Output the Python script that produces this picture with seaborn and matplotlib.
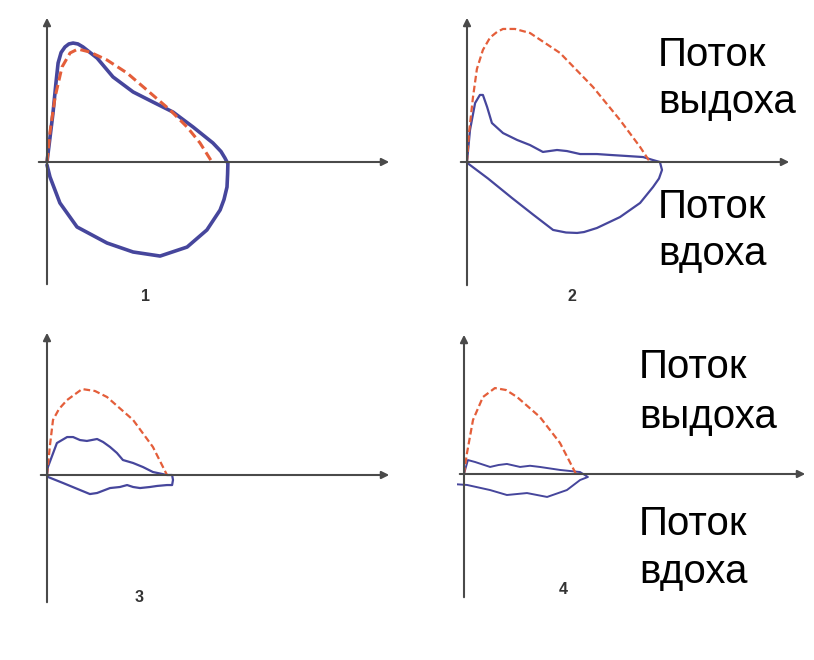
import numpy as np
import matplotlib
matplotlib.use("Agg")
import matplotlib.pyplot as plt
import seaborn as sns

# flow-volume loops: volume (L) vs flow (L/s)
# panel 1
p1_norm_vol = [0, 0.1, 0.27, 0.5, 0.77, 1.03, 1.43, 2.0, 2.67, 3.33, 4.1, 4.67, 5.1, 5.5]
p1_norm_flow = [0, 2.0, 4.33, 6.33, 7.27, 7.53, 7.33, 6.8, 5.93, 4.8, 3.47, 2.33, 1.27, 0]
p1_vol = [0, 0.2, 0.3, 0.37, 0.47, 0.6, 0.73, 0.87, 1.03, 1.2, 1.67, 2.2, 2.87, 3.53, 4.2,
          4.87, 5.53, 5.8, 5.93, 6.0,
          6.03, 6.02, 6.0, 5.9, 5.77, 5.33, 4.67, 3.77, 2.87, 2.0, 1.0, 0.43, 0.1, 0]
p1_flow = [0, 3.27, 5.3, 6.6, 7.3, 7.67, 7.87, 7.93, 7.87, 7.67, 6.93, 5.67, 4.67, 4.0, 3.33,
           2.33, 1.27, 0.7, 0.27, 0,
           -0.07, -0.8, -1.67, -2.5, -3.2, -4.53, -5.67, -6.27, -6.0, -5.4, -4.33, -2.73,
           -1.0, -0.2]

# panel 2
p2_norm_vol = [0, 0.07, 0.2, 0.33, 0.53, 0.77, 1.0, 1.2, 1.6, 2.1, 3.1, 4.2, 5.1, 5.77, 6.1]
p2_norm_flow = [0, 2.0, 4.33, 6.2, 7.47, 8.3, 8.67, 8.87, 8.87, 8.6, 7.27, 5.0, 2.8, 1.0, 0]
p2_vol = [0, 0.1, 0.27, 0.43, 0.53, 0.67, 0.83, 1.2, 1.67, 2.1, 2.53, 3.0, 3.33, 3.77,
          4.33, 4.77, 5.33, 5.87, 6.2, 6.43,
          6.5, 6.4, 6.2, 5.77, 5.1, 4.33, 3.9, 3.67, 3.3, 2.87, 2.2, 1.5, 0.7, 0]
p2_flow = [0, 2.13, 3.93, 4.47, 4.47, 3.67, 2.6, 1.93, 1.47, 1.13, 0.67, 0.8, 0.73, 0.53,
           0.53, 0.47, 0.4, 0.33, 0.13, 0,
           -0.53, -1.1, -1.67, -2.73, -3.67, -4.4, -4.67, -4.73, -4.7, -4.53, -3.5, -2.4,
           -1.1, -0.05]

# panel 3
p3_norm_vol = [0, 0.1, 0.2, 0.4, 0.67, 1.17, 1.6, 2.0, 2.87, 3.53, 4.0]
p3_norm_flow = [0, 2.0, 3.67, 4.4, 5.0, 5.73, 5.6, 5.2, 3.67, 1.87, 0]
p3_vol = [0, 0.03, 0.33, 0.67, 0.87, 1.1, 1.33, 1.67, 1.87, 2.1, 2.33, 2.53, 2.87, 3.2,
          3.53, 4.0, 4.17, 4.2, 4.17, 4.0, 3.67, 3.43, 3.1, 2.87, 2.67, 2.43, 2.1, 1.67,
          1.43, 1.1, 0.53, 0.03]
p3_flow = [0, 0.53, 2.13, 2.53, 2.53, 2.33, 2.27, 2.4, 2.2, 1.87, 1.47, 1.0, 0.8, 0.53,
           0.2, 0, 0, -0.33, -0.67, -0.67, -0.73, -0.8, -0.87, -0.8, -0.67, -0.8, -0.87,
           -1.2, -1.27, -1.0, -0.53, -0.13]

# panel 4
p4_norm_vol = [0, 0.1, 0.3, 0.63, 1.03, 1.4, 1.77, 2.53, 3.2, 3.7, 3.73]
p4_norm_flow = [0, 1.4, 3.6, 5.13, 5.73, 5.6, 5.13, 3.8, 2.07, 0.13, 0]
p4_vol = [0, 0.13, 0.37, 0.87, 1.15, 1.43, 1.87, 2.2, 2.53, 3.2, 3.87, 4.13,
          3.87, 3.43, 2.77, 2.1, 1.43, 0.87, 0.1, -0.37]
p4_flow = [0, 0.93, 0.8, 0.47, 0.6, 0.67, 0.47, 0.55, 0.47, 0.27, 0.13, -0.2,
           -0.4, -1.07, -1.53, -1.27, -1.4, -1.07, -0.73, -0.67]

panel_labels = ["1", "2", "3", "4"]
exp_text = ["Поток", "выдоха"]
insp_text = ["Поток", "вдоха"]

BLUE = "#46469c"
RED = "#e45e3a"
AXC = "#4a4a4a"
W, H = 814, 660
SX, SY = 30.0, 15.0  # pixels per litre, pixels per L/s

sns.set_theme(style="white")
plt.rcParams["font.family"] = ["Liberation Sans", "DejaVu Sans"]

fig = plt.figure(figsize=(W / 100, H / 100), dpi=100)
fig.patch.set_facecolor("white")

# (left, right, top, bottom, origin x, origin y) in pixels
layout = [
    (36, 392, 15, 287, 47, 162),
    (458, 792, 15, 288, 467, 162),
    (38, 392, 330, 605, 47, 475),
    (457, 808, 332, 600, 464, 474),
]
curves = [
    (p1_norm_vol, p1_norm_flow, p1_vol, p1_flow, 2.6),
    (p2_norm_vol, p2_norm_flow, p2_vol, p2_flow, 1.6),
    (p3_norm_vol, p3_norm_flow, p3_vol, p3_flow, 1.6),
    (p4_norm_vol, p4_norm_flow, p4_vol, p4_flow, 1.4),
]
label_pos = [(146, 297), (572, 297), (139, 597), (563, 589)]

for i, ((x0, x1, y0, y1, ox, oy), (nv, nf, v, f, lw)) in enumerate(zip(layout, curves)):
    ax = fig.add_axes([x0 / W, 1 - y1 / H, (x1 - x0) / W, (y1 - y0) / H])
    ax.set_xlim((x0 - ox) / SX, (x1 - ox) / SX)
    ax.set_ylim((oy - y1) / SY, (oy - y0) / SY)
    ax.axis("off")

    # axes with arrows
    ax.annotate("", xy=(1, 0), xytext=(0, 0),
                xycoords=ax.get_yaxis_transform(), textcoords=ax.get_yaxis_transform(),
                arrowprops=dict(arrowstyle="-|>", color=AXC, lw=1.5, mutation_scale=11))
    ax.annotate("", xy=(0, 1), xytext=(0, 0),
                xycoords=ax.get_xaxis_transform(), textcoords=ax.get_xaxis_transform(),
                arrowprops=dict(arrowstyle="-|>", color=AXC, lw=1.5, mutation_scale=11))

    sns.lineplot(x=v, y=f, sort=False, estimator=None, ax=ax, color=BLUE, lw=lw,
                 solid_joinstyle="round", solid_capstyle="round")
    sns.lineplot(x=nv, y=nf, sort=False, estimator=None, ax=ax, color=RED,
                 lw=1.6 if i else 2.2, linestyle=(0, (3, 1.5)), dash_joinstyle="round")

    lx, ly = label_pos[i]
    fig.text(lx / W, 1 - ly / H, panel_labels[i], ha="center", va="center",
             fontsize=11.5, fontweight="bold", color="#333333")

# side captions
for left, baselines, words in [
    (658, (66, 113), exp_text),
    (658, (218, 265), insp_text),
    (639, (378, 428), exp_text),
    (639, (535, 583), insp_text),
]:
    for b, word in zip(baselines, words):
        fig.text(left / W, 1 - b / H, word, ha="left", va="baseline",
                 fontsize=29, color="black")

fig.savefig("out.png", dpi=100, facecolor="white")
